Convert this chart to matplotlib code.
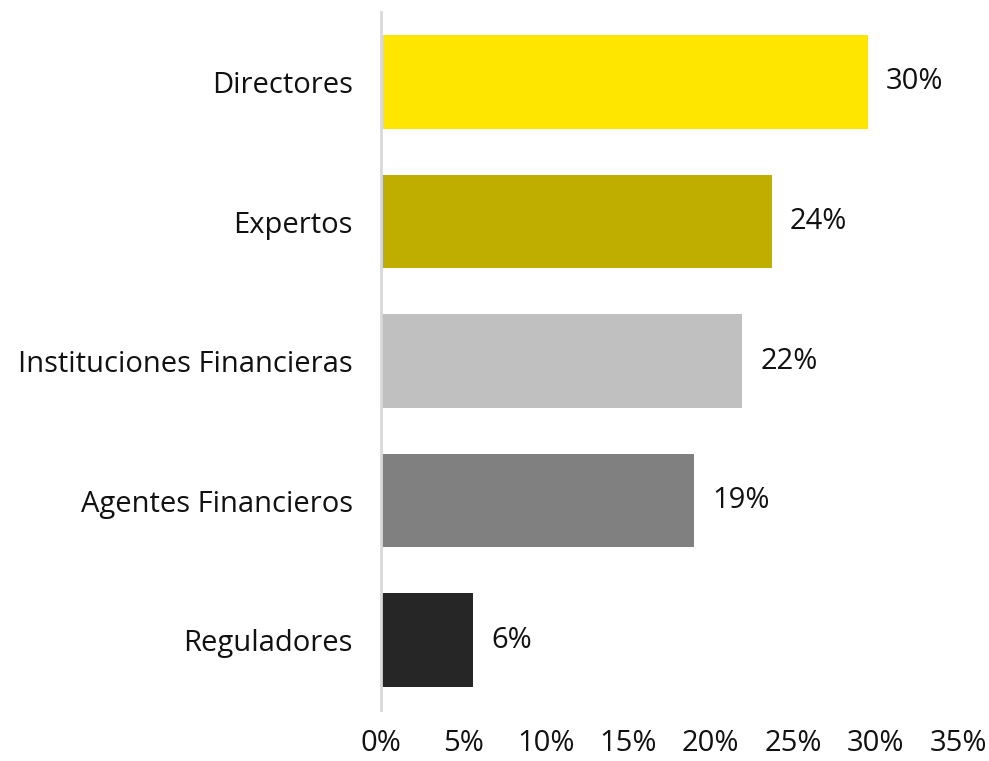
import matplotlib
matplotlib.use("Agg")
import matplotlib.pyplot as plt
from matplotlib.ticker import PercentFormatter

categories = ["Directores", "Expertos", "Instituciones Financieras", "Agentes Financieros", "Reguladores"]
values = [29.5, 23.7, 21.9, 19.0, 5.6]
value_labels = ["30%", "24%", "22%", "19%", "6%"]
colors = ["#FFE600", "#BFAE00", "#C0C0C0", "#808080", "#262626"]
xticks = [0, 5, 10, 15, 20, 25, 30, 35]

plt.rcParams['font.family'] = ['Open Sans', 'DejaVu Sans']
FS = 21

fig = plt.figure(figsize=(9.89, 7.61), dpi=100)
ax = fig.add_axes([0.385, 0.067, 0.584, 0.917])

ypos = list(range(len(categories)))
ax.barh(ypos, values, height=0.67, color=colors)
for y, v, lab in zip(ypos, values, value_labels):
    ax.annotate(lab, (v, y), xytext=(13, 0), textcoords="offset points",
                va="center", ha="left", fontsize=FS, color="#111111")

ax.set_yticks(ypos)
ax.set_yticklabels(categories, fontsize=FS, color="#111111")
ax.set_ylim(4.5, -0.5)
ax.set_xlim(0, 35)
ax.set_xticks(xticks)
ax.xaxis.set_major_formatter(PercentFormatter(decimals=0))
ax.tick_params(axis="x", length=0, pad=14, labelsize=FS, labelcolor="#111111")
ax.tick_params(axis="y", length=0, pad=20)
for s in ["top", "right", "bottom"]:
    ax.spines[s].set_visible(False)
ax.spines["left"].set_color("#d9d9d9")
ax.spines["left"].set_linewidth(2)

fig.savefig("out.png", dpi=100)
